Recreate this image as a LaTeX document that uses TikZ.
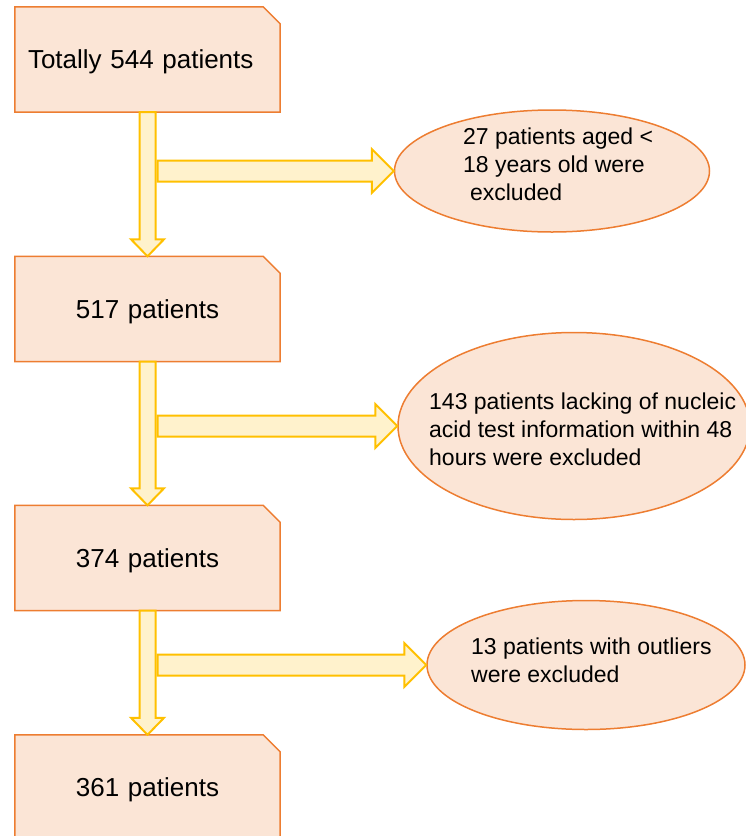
\documentclass[tikz,border=0pt]{standalone}
\usepackage{fontspec}
\setmainfont{Liberation Sans}
\usetikzlibrary{shapes.geometric,backgrounds,calc}
\definecolor{boxfill}{HTML}{FBE5D6}
\definecolor{boxdraw}{HTML}{ED7D31}
\definecolor{arrowfill}{HTML}{FFF2CC}
\definecolor{arrowdraw}{HTML}{FFC000}

% block arrow from the bottom of one box to the top of the next
\newcommand{\blockdown}[2]{%
  \draw[blockarrow] let \p1=(#1.south), \p2=(#2.north) in
    (\x1-8pt,\y1) -- (\x1+8pt,\y1) -- (\x1+8pt,\y2+17pt) -- (\x1+16.5pt,\y2+17pt)
    -- (\x1,\y2) -- (\x1-16.5pt,\y2+17pt) -- (\x1-8pt,\y2+17pt) -- cycle;}
% block arrow from the stem beside a box to an exclusion ellipse
\newcommand{\blockright}[2]{%
  \draw[blockarrow] let \p1=(#1.south), \p2=(#2.west) in
    (\x1+10pt,\y2+10.5pt) -- (\x2-22pt,\y2+10.5pt) -- (\x2-22pt,\y2+22pt)
    -- (\x2,\y2) -- (\x2-22pt,\y2-22pt) -- (\x2-22pt,\y2-10.5pt) -- (\x1+10pt,\y2-10.5pt) -- cycle;}

\begin{document}
\begin{tikzpicture}[x=1pt, y=-1pt,
    cutbox/.style={minimum width=265pt, minimum height=105pt, inner sep=0pt,
      text width=239pt, text depth=0pt, font=\fontsize{26}{30}\selectfont},
    boxline/.style={draw=boxdraw, fill=boxfill, line width=1.5pt, line join=miter},
    excl/.style={ellipse, draw=boxdraw, fill=boxfill, line width=1.5pt, inner sep=0pt},
    excltext/.style={anchor=north west, inner sep=0pt, align=left,
      font=\fontsize{23}{27.6}\selectfont},
    blockarrow/.style={draw=arrowdraw, fill=arrowfill, line width=2pt, line join=miter}]
  \useasboundingbox (0,0) rectangle (745,836);

  \node[cutbox, align=left] (b1) at (147.5,59.5) {Totally 544 patients};
  \node[cutbox, align=center] (b2) at (147.5,309) {517 patients};
  \node[cutbox, align=center] (b3) at (147.5,558) {374 patients};
  \node[cutbox, align=center] (b4) at (147.5,787.5) {361 patients};

  \begin{scope}[on background layer]
    \foreach \b in {b1,b2,b3,b4}
      \draw[boxline] (\b.south west) -- (\b.north west) -- ([xshift=-17pt]\b.north east)
        -- ([yshift=-17pt]\b.north east) -- (\b.south east) -- cycle;
  \end{scope}

  % exclusion ellipses and their texts
  \node[excl, minimum width=315pt, minimum height=122pt] (e1) at (552,171) {};
  \node[excl, minimum width=352pt, minimum height=187pt] (e2) at (574,426) {};
  \node[excl, minimum width=318pt, minimum height=129pt] (e3) at (586,665) {};
  \node[excltext] (t1) at (463,128)
    {27 patients aged <\\18 years old were\\\hspace*{0.3em}excluded};
  \node[excltext] (t2) at (429,393)
    {143 patients lacking of nucleic\\acid test information within 48\\hours were excluded};
  \node[excltext] (t3) at (471,638) {13 patients with outliers\\were excluded};

  \blockdown{b1}{b2}
  \blockdown{b2}{b3}
  \blockdown{b3}{b4}
  \blockright{b1}{e1}
  \blockright{b2}{e2}
  \blockright{b3}{e3}
\end{tikzpicture}
\end{document}
